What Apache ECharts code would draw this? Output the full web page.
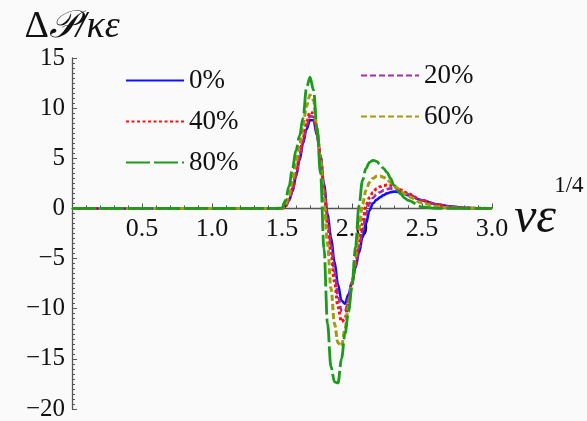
<!DOCTYPE html>
<html>
<head>
<meta charset="utf-8">
<script src="https://cdn.jsdelivr.net/npm/echarts@6/dist/echarts.min.js"></script>
<style>
html,body{margin:0;padding:0;background:#fafafa;}
#chart{width:587px;height:421px;}
</style>
</head>
<body>
<div id="chart"></div>
<script>
// x positions (νε^{1/4})
const xs = [0, 1.45, 1.5, 1.525, 1.55, 1.575, 1.6, 1.625, 1.65, 1.675, 1.7, 1.725, 1.75, 1.775, 1.8, 1.825, 1.85, 1.875, 1.9, 1.925, 1.95, 1.975, 2.0, 2.025, 2.05, 2.075, 2.1, 2.125, 2.15, 2.175, 2.2, 2.225, 2.25, 2.275, 2.3, 2.325, 2.35, 2.375, 2.4, 2.5, 2.6, 2.7, 2.8, 2.9, 3.0];
// ΔP/κε for each percentage
const v0  = [0, 0, 0, 0.2, 0.8, 1.7, 3.2, 4.8, 6.5, 7.9, 8.8, 8.8, 7.3, 5.2, 2.4, -0.5, -2.9, -5.3, -7.6, -9.2, -9.5, -8.6, -7.3, -5.9, -4.4, -2.9, -1.5, -0.2, 0.5, 0.85, 1.1, 1.32, 1.5, 1.62, 1.68, 1.65, 1.55, 1.45, 1.33, 0.8, 0.42, 0.2, 0.07, 0.02, 0];
const v20 = [0, 0, 0, 0.22, 0.85, 1.85, 3.35, 5.0, 6.75, 8.25, 9.2, 9.15, 7.45, 5.1, 2.1, -1.0, -3.7, -6.3, -8.7, -10.2, -10.3, -9.0, -7.4, -5.7, -3.9, -2.2, -0.6, 0.5, 1.05, 1.4, 1.62, 1.8, 1.92, 2.0, 1.95, 1.85, 1.72, 1.57, 1.4, 0.8, 0.4, 0.17, 0.06, 0.02, 0];
const v40 = [0, 0, 0, 0.25, 0.9, 2.0, 3.5, 5.2, 7.0, 8.6, 9.6, 9.5, 7.6, 5.0, 1.8, -1.5, -4.5, -7.3, -9.8, -11.3, -11.0, -9.4, -7.5, -5.5, -3.5, -1.5, 0.3, 1.1, 1.6, 1.95, 2.15, 2.28, 2.34, 2.3, 2.2, 2.02, 1.85, 1.65, 1.45, 0.8, 0.38, 0.15, 0.05, 0.01, 0];
const v60 = [0, 0, 0, 0.4, 1.3, 2.8, 4.6, 6.3, 8.2, 10.2, 11.3, 10.8, 8.0, 4.8, 1.0, -3.5, -8.0, -11.5, -13.4, -13.75, -12.0, -9.8, -7.4, -4.8, -2.0, 0.4, 1.8, 2.6, 3.0, 3.2, 3.24, 3.1, 2.9, 2.6, 2.3, 2.0, 1.7, 1.45, 1.2, 0.55, 0.2, 0.06, 0.02, 0, 0];
const v80 = [0, 0, 0.05, 0.8, 2.2, 4.0, 5.8, 7.2, 9.0, 12.0, 13.1, 11.8, 8.0, 3.5, -4.0, -11.5, -15.8, -17.3, -17.4, -15.0, -12.5, -10.3, -7.8, -3.8, 0.3, 2.8, 4.0, 4.6, 4.8, 4.7, 4.4, 4.0, 3.6, 3.0, 2.3, 1.8, 1.4, 1.05, 0.8, 0.15, 0, 0, 0, 0, 0];
const seriesNames = ['0%', '20%', '40%', '60%', '80%'];
const xTicks = [0.5, 1.0, 1.5, 2.0, 2.5, 3.0];
const yTicks = [-20, -15, -10, -5, 0, 5, 10, 15];

const FONT = "Liberation Serif";
const chart = echarts.init(document.getElementById('chart'));

function pts(v){ return xs.map((x,i)=>[x, v[i]]); }
const styles = [
  {color:'#1010ff', type:'solid', width:2.6},
  {color:'#a030a8', type:[6,3], width:2.6},
  {color:'#ff1010', type:[3,2.5], width:3},
  {color:'#a09c10', type:[6,3], width:3},
  {color:'#1c9a1c', type:[24,4], width:2.8}
];
const vals = [v0, v20, v40, v60, v80];

const GRID_TOP = 58, GRID_BOTTOM = 12, H = 421;
const plotH = H - GRID_TOP - GRID_BOTTOM;
const zeroOffset = -plotH * (0 - (-20)) / 35; // move x axis from bottom (-20) up to 0

const legendText = {fontFamily:FONT, fontSize:27, color:'#111', lineHeight:24};

chart.setOption({
  backgroundColor:'#fafafa',
  animation:false,
  grid:{left:72, right:95, top:GRID_TOP, bottom:GRID_BOTTOM, containLabel:false, outerBoundsMode:'none'},
  legend:[
    {data:['0%','40%','80%'], orient:'vertical', left:120, top:62, itemWidth:58, itemHeight:14, itemGap:14,
     itemStyle:{opacity:0}, textStyle:legendText},
    {data:['20%','60%'], orient:'vertical', left:355, top:57, itemWidth:58, itemHeight:14, itemGap:14,
     itemStyle:{opacity:0}, textStyle:legendText}
  ],
  xAxis:{
    type:'value', min:0, max:3, interval:0.5,
    offset: zeroOffset,
    axisLine:{onZero:false, lineStyle:{color:'#555', width:1.3}},
    axisTick:{inside:true, length:5, lineStyle:{color:'#555'}},
    minorTick:{show:true, splitNumber:5, length:3, lineStyle:{color:'#555'}},
    splitLine:{show:false},
    axisLabel:{fontFamily:FONT, fontSize:26, color:'#111', margin:8,
      formatter:function(v){ return xTicks.indexOf(v) >= 0 ? v.toFixed(1) : ''; }},
    name:'{s|1/4}\n{a|νε}', nameLocation:'end', nameGap:-10,
    nameTextStyle:{align:'left', padding:[0,0,4,0], rich:{
      s:{fontFamily:FONT, fontSize:23, lineHeight:24, color:'#111', padding:[0,0,0,40]},
      a:{fontFamily:FONT, fontStyle:'italic', fontSize:50, lineHeight:40, color:'#111'}
    }}
  },
  yAxis:{
    type:'value', min:-20, max:15, interval:5,
    axisLine:{show:true, onZero:false, lineStyle:{color:'#555', width:1.3}},
    axisTick:{show:true, inside:true, length:5, lineStyle:{color:'#555'}},
    minorTick:{show:true, splitNumber:10, length:3, lineStyle:{color:'#555'}},
    splitLine:{show:false},
    axisLabel:{fontFamily:FONT, fontSize:25, color:'#111', margin:7,
      formatter:function(v){ return yTicks.indexOf(v) >= 0 ? String(v).replace('-', '\u2212') : ''; }},
    name:'{d|Δ}{p|𝒫/κε}', nameLocation:'end', nameGap:11,
    nameTextStyle:{rich:{
      d:{fontFamily:FONT, fontSize:38, color:'#111'},
      p:{fontFamily:FONT, fontStyle:'italic', fontSize:38, color:'#111'}
    }}
  },
  series: seriesNames.map((n,i)=>({
    name:n, type:'line', data:pts(vals[i]), showSymbol:false, symbol:'none',
    smooth:0.35, smoothMonotone:'x',
    lineStyle:{color:styles[i].color, type:styles[i].type, width:styles[i].width},
    itemStyle:{color:styles[i].color},
    z: 2 + i
  }))
});
</script>
</body>
</html>
